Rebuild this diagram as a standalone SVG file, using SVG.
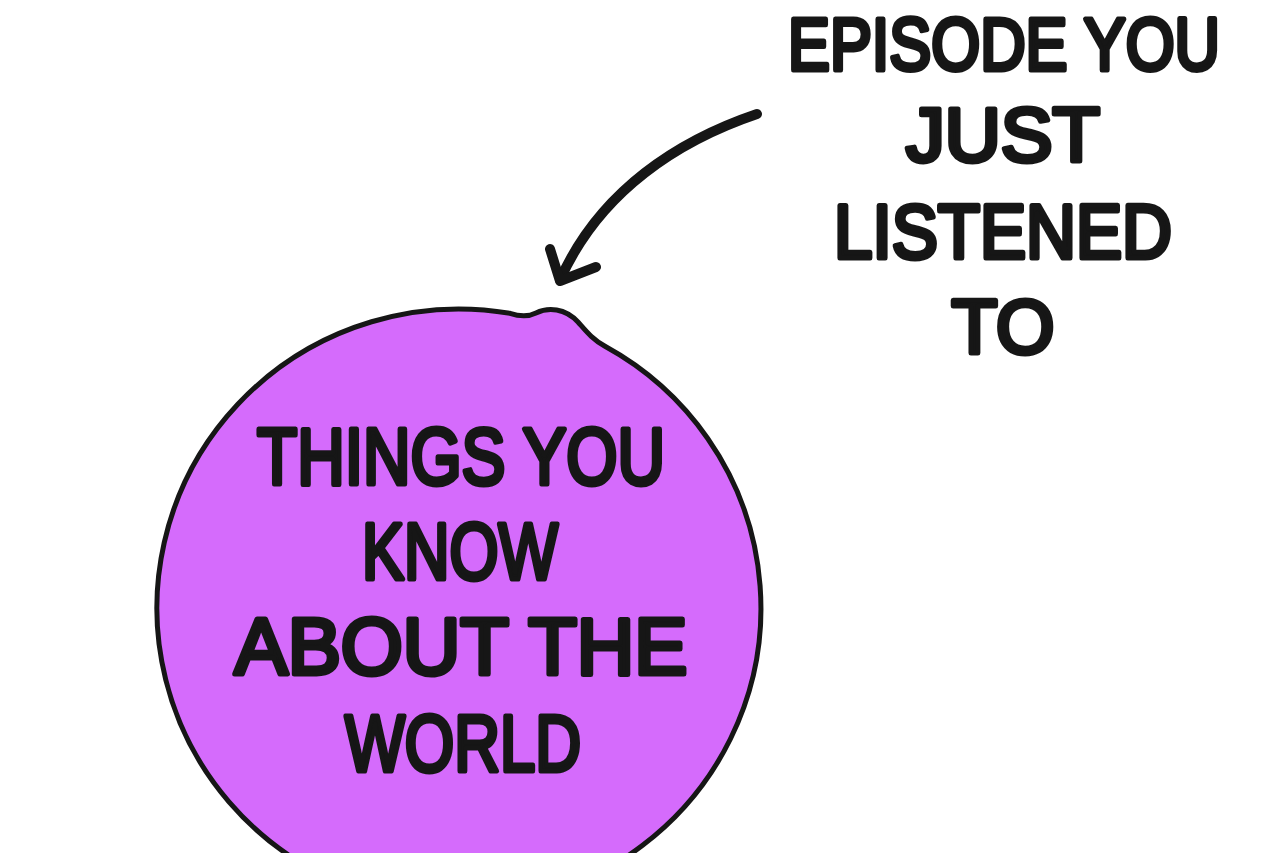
<svg xmlns="http://www.w3.org/2000/svg" width="1280" height="853" viewBox="0 0 1280 853">
  <style>
    .hand { font-family: "Liberation Sans", "DejaVu Sans", sans-serif; font-weight: normal; fill: #161616; stroke: #161616; stroke-width: 5; stroke-linejoin: round; stroke-linecap: round; text-anchor: middle; }
    .blob { fill: #d56bfc; stroke: #161616; stroke-width: 5; stroke-linejoin: round; }
    .ink { fill: none; stroke: #161616; stroke-width: 10; stroke-linecap: round; stroke-linejoin: round; }
  </style>
  <rect width="1280" height="853" fill="#ffffff"/>
  <g id="bubble">
    <path class="blob" d="M 605 346.3 A 302 299 0 1 1 510 313.3 C 518 316, 528 317, 536 313 C 548 307, 565 308, 578 322 C 586 331, 592 339, 605 346.3 Z"/>
    <text class="hand" font-size="80" x="461" y="484" textLength="408" lengthAdjust="spacingAndGlyphs">THINGS YOU</text>
    <text class="hand" font-size="80" x="460" y="579" textLength="196" lengthAdjust="spacingAndGlyphs">KNOW</text>
    <text class="hand" font-size="80" x="461" y="674" textLength="453" lengthAdjust="spacingAndGlyphs">ABOUT THE</text>
    <text class="hand" font-size="80" x="463" y="771" textLength="236" lengthAdjust="spacingAndGlyphs">WORLD</text>
  </g>
  <g id="label">
    <text class="hand" font-size="75" x="1004" y="70" textLength="432" lengthAdjust="spacingAndGlyphs">EPISODE YOU</text>
    <text class="hand" font-size="76" x="1003" y="161" textLength="194" lengthAdjust="spacingAndGlyphs">JUST</text>
    <text class="hand" font-size="76" x="1003" y="258" textLength="338" lengthAdjust="spacingAndGlyphs">LISTENED</text>
    <text class="hand" font-size="76" x="1003" y="353" textLength="103" lengthAdjust="spacingAndGlyphs">TO</text>
  </g>
  <g id="connectors">
    <path class="ink" d="M 757 114 C 680 140, 600 190, 560 280"/>
    <path class="ink" d="M 550 249 L 560 281 L 596 267"/>
  </g>
</svg>
